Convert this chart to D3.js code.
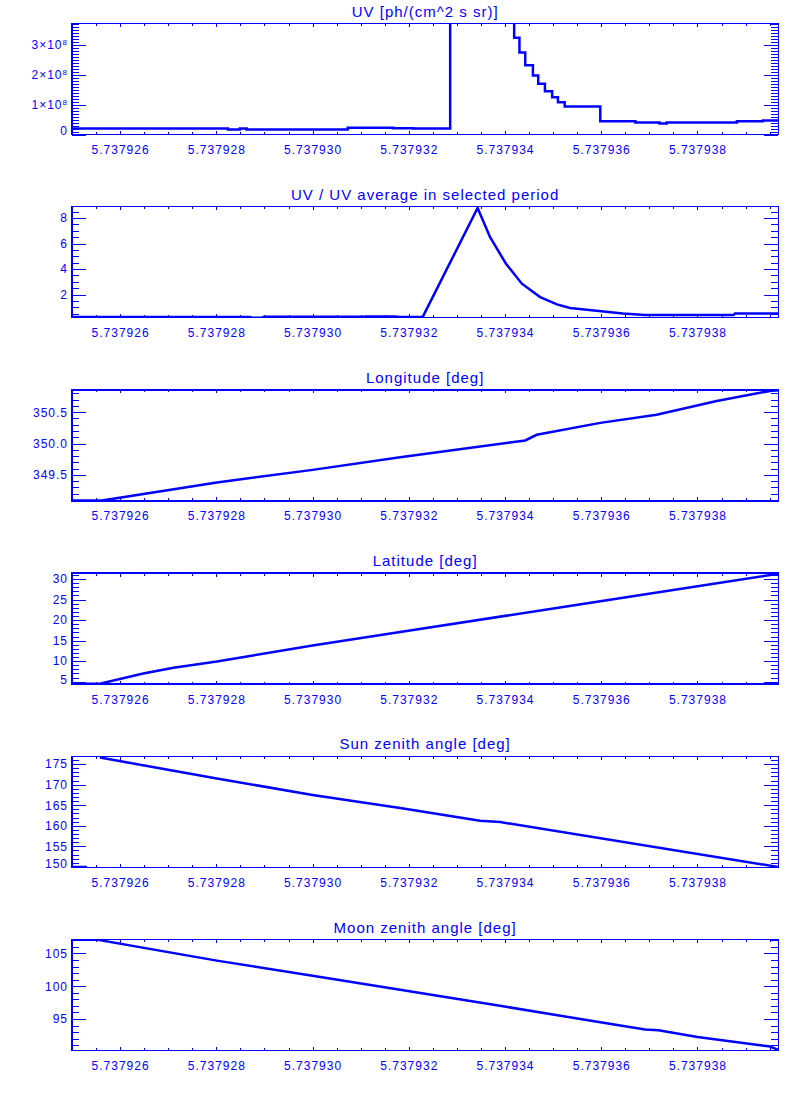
<!DOCTYPE html>
<meta charset="utf-8">
<head>
  <title>UV and orbit panels</title>
  <script src="https://cdn.jsdelivr.net/npm/d3@7"></script>
</head>

<style>
  body { margin: 0; background: #fff; }
  text { font-family: "Liberation Sans", Arial, sans-serif; }
</style>

<body>
  <svg width="800" height="1100"></svg>

  <script>
var blue = "#0000ff";

// shared time axis
var timeRange = [5.737925, 5.73793968];
var timeTicks = [5.737926, 5.737928, 5.737930, 5.737932, 5.737934, 5.737936, 5.737938];

// UV [ph/(cm^2 s sr)] - histogram, value holds until next time
var uvTime  = [5.73792500, 5.73792824, 5.73792849, 5.73792863, 5.73793073, 5.73793167, 5.73793209,
               5.73793286, 5.73793419, 5.73793430, 5.73793442, 5.73793458, 5.73793469, 5.73793483,
               5.73793498, 5.73793510, 5.73793524, 5.73793598, 5.73793671, 5.73793721, 5.73793736,
               5.73793882, 5.73793936, 5.73793968];
var uvValue = [2.0e7, 1.7e7, 2.0e7, 1.7e7, 2.3e7, 2.1e7, 2.0e7,
               7.0e8, 3.24e8, 2.75e8, 2.32e8, 1.98e8, 1.70e8, 1.45e8,
               1.25e8, 1.08e8, 0.94e8, 4.4e7, 4.05e7, 3.7e7, 4.05e7,
               4.4e7, 4.7e7, 4.7e7];
var uvTicks = [0, 1e8, 2e8, 3e8];

// UV / UV average in selected period
var ratioTime  = [5.73792500, 5.73792870, 5.73792874, 5.73792895, 5.73792899, 5.73793105, 5.73793110,
                  5.73793171, 5.73793182, 5.73793229, 5.73793343, 5.73793369, 5.73793402, 5.73793435,
                  5.73793473, 5.73793508, 5.73793535, 5.73793570, 5.73793645, 5.73793691, 5.73793875,
                  5.73793878, 5.73793968];
var ratioValue = [0.25, 0.25, 0.20, 0.20, 0.27, 0.27, 0.30,
                  0.30, 0.26, 0.26, 8.78, 6.49, 4.42, 2.86,
                  1.81, 1.24, 0.96, 0.83, 0.52, 0.41, 0.41,
                  0.52, 0.52];
var ratioTicks = [2, 4, 6, 8];

// Longitude [deg]
var lonTime  = [5.73792500, 5.73792562, 5.73792801, 5.73793000, 5.73793182, 5.73793442,
                5.73793466, 5.73793598, 5.73793715, 5.73793840, 5.73793951, 5.73793968];
var lonValue = [349.09, 349.09, 349.38, 349.58, 349.78, 350.05,
                350.14, 350.33, 350.46, 350.68, 350.84, 350.85];
var lonTicks = [349.5, 350.0, 350.5];

// Latitude [deg]
var latTime  = [5.73792500, 5.73792558, 5.73792648, 5.73792711, 5.73792801, 5.73793000,
                5.73793182, 5.73793598, 5.73793968];
var latValue = [4.5, 4.5, 7.0, 8.4, 9.9, 13.8, 17.1, 24.6, 31.3];
var latTicks = [5, 10, 15, 20, 25, 30];

// Sun zenith angle [deg] (gap after the first two samples)
var sunTime  = [5.73792500, 5.73792531, 5.73792545, 5.73792558, 5.73792801, 5.73793000,
                5.73793182, 5.73793348, 5.73793390, 5.73793967];
var sunValue = [150.0, 150.0, null, 176.6, 171.5, 167.5, 164.3, 161.2, 160.9, 150.0];
var sunTicks = [150, 155, 160, 165, 170, 175];

// Moon zenith angle [deg]
var moonTime  = [5.73792500, 5.73792551, 5.73792801, 5.73793000, 5.73793182, 5.73793399,
                 5.73793598, 5.73793691, 5.73793719, 5.73793800, 5.73793951, 5.73793968];
var moonValue = [107.1, 107.1, 103.9, 101.6, 99.45, 96.9,
                 94.5, 93.4, 93.3, 92.25, 90.8, 90.3];
var moonTicks = [95, 100, 105];

var panels = [
  {title: "UV [ph/(cm^2 s sr)]", time: uvTime, value: uvValue, domain: [0, 3.72e8],
   ticks: uvTicks, minor: 1e7, curve: d3.curveStepAfter, sci: true},
  {title: "UV / UV average in selected period", time: ratioTime, value: ratioValue, domain: [0.2, 8.88],
   ticks: ratioTicks, minor: 0.5, curve: d3.curveLinear},
  {title: "Longitude [deg]", time: lonTime, value: lonValue, domain: [349.085, 350.856],
   ticks: lonTicks, minor: 0.1, curve: d3.curveLinear, fmt: d3.format(".1f")},
  {title: "Latitude [deg]", time: latTime, value: latValue, domain: [4.4, 31.46],
   ticks: latTicks, minor: 1, curve: d3.curveLinear},
  {title: "Sun zenith angle [deg]", time: sunTime, value: sunValue, domain: [149.9, 176.9],
   ticks: sunTicks, minor: 1, curve: d3.curveLinear},
  {title: "Moon zenith angle [deg]", time: moonTime, value: moonValue, domain: [90.2, 107.12],
   ticks: moonTicks, minor: 1, curve: d3.curveLinear}
];

var left = 72, right = 778.3, panelTop = 23.5, panelStep = 183.2, panelH = 111;

var svg = d3.select("svg");
var defs = svg.append("defs");

var x = d3.scaleLinear().domain(timeRange).range([left, right]);
var xMinor = d3.range(0, 40).map(function(i){ return timeRange[0] + i * 5e-7; })
  .filter(function(t){ return t <= timeRange[1]; });

function minorTicks(domain, step) {
  var start = Math.ceil(domain[0] / step) * step;
  var out = [];
  for (var v = start; v <= domain[1]; v += step) out.push(v);
  return out;
}

function styleAxis(g) {
  g.select(".domain").remove();
  g.attr("color", blue)
   .attr("font-size", 12)
   .attr("font-family", "Liberation Sans, Arial, sans-serif");
  g.selectAll("line").attr("stroke-width", 1).attr("shape-rendering", "crispEdges");
  g.selectAll("text").attr("letter-spacing", 1);
}

panels.forEach(function(p, i) {
  var top = panelTop + i * panelStep, bottom = top + panelH;
  var y = d3.scaleLinear().domain(p.domain).range([bottom, top]);
  var g = svg.append("g");

  // title
  g.append("text")
    .attr("x", (left + right) / 2)
    .attr("y", top - 7)
    .attr("text-anchor", "middle")
    .attr("font-size", 15)
    .attr("letter-spacing", 1)
    .attr("fill", blue)
    .text(p.title);

  // data line, clipped to the box
  defs.append("clipPath").attr("id", "clip" + i)
    .append("rect").attr("x", left).attr("y", top)
    .attr("width", right - left).attr("height", panelH);

  var pts = p.time.map(function(t, k){ return [t, p.value[k]]; });
  var line = d3.line()
    .defined(function(d){ return d[1] != null; })
    .x(function(d){ return x(d[0]); })
    .y(function(d){ return y(d[1]); })
    .curve(p.curve);

  g.append("path")
    .attr("d", line(pts))
    .attr("clip-path", "url(#clip" + i + ")")
    .style("fill", "none")
    .style("stroke", blue)
    .style("stroke-width", 2.5);

  // x axes
  var xb = g.append("g").attr("transform", "translate(0," + bottom + ")")
    .call(d3.axisBottom(x).tickValues(timeTicks).tickSize(-3.5).tickPadding(11)
      .tickFormat(d3.format(".6f")));
  styleAxis(xb);
  var xbm = g.append("g").attr("transform", "translate(0," + bottom + ")")
    .call(d3.axisBottom(x).tickValues(xMinor).tickSize(-2.5).tickFormat(""));
  styleAxis(xbm);
  var xt = g.append("g").attr("transform", "translate(0," + top + ")")
    .call(d3.axisTop(x).tickValues(timeTicks).tickSize(-3.5).tickFormat(""));
  styleAxis(xt);
  var xtm = g.append("g").attr("transform", "translate(0," + top + ")")
    .call(d3.axisTop(x).tickValues(xMinor).tickSize(-2.5).tickFormat(""));
  styleAxis(xtm);

  // y axes
  var minor = minorTicks(p.domain, p.minor);
  var fmt = p.fmt || d3.format("d");
  var yl = g.append("g").attr("transform", "translate(" + left + ",0)")
    .call(d3.axisLeft(y).tickValues(p.ticks).tickSize(-14).tickPadding(4)
      .tickFormat(p.sci ? function(){ return ""; } : fmt));
  styleAxis(yl);
  yl.selectAll(".tick").each(function(d) {
    var t = d3.select(this).select("text");
    var pos = y(d);
    if (pos > bottom - 4) t.attr("y", (bottom - 4) - pos);
    if (p.sci) {
      if (d === 0) {
        t.text("0");
      } else {
        t.append("tspan").text((d / 1e8) + "\u00d710");
        t.append("tspan").attr("font-size", 8).attr("dy", "-0.5em").text("8");
      }
    }
  });
  var ylm = g.append("g").attr("transform", "translate(" + left + ",0)")
    .call(d3.axisLeft(y).tickValues(minor).tickSize(-7).tickFormat(""));
  styleAxis(ylm);
  var yr = g.append("g").attr("transform", "translate(" + right + ",0)")
    .call(d3.axisRight(y).tickValues(p.ticks).tickSize(-14).tickFormat(""));
  styleAxis(yr);
  var yrm = g.append("g").attr("transform", "translate(" + right + ",0)")
    .call(d3.axisRight(y).tickValues(minor).tickSize(-7).tickFormat(""));
  styleAxis(yrm);

  // box
  g.append("rect")
    .attr("x", left).attr("y", top)
    .attr("width", right - left).attr("height", panelH)
    .attr("fill", "none")
    .attr("stroke", blue)
    .attr("stroke-width", 1.5)
    .attr("shape-rendering", "crispEdges");
});
  </script>
</body>
</html>
